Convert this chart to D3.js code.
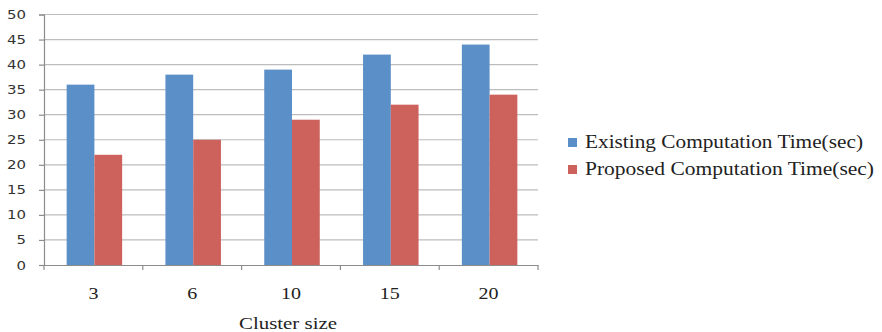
<!DOCTYPE html>
<html><head><meta charset="utf-8">
<script src="https://cdn.jsdelivr.net/npm/d3@7"></script>
<style>body{margin:0;background:#fff;}svg{display:block;}</style>
</head><body>
<svg id="c" width="882" height="332"></svg>
<script>
const categories = ["3","6","10","15","20"];
const existing = [36, 38, 39, 42, 44];
const proposed = [22, 25, 29, 32, 34];
const seriesNames = ["Existing Computation Time(sec)", "Proposed Computation Time(sec)"];
const seriesColors = ["#5b8fc7", "#cd625d"];
const yTicks = [0,5,10,15,20,25,30,35,40,45,50];

const SERIF = '"Liberation Serif","Times New Roman",serif';
const SANS = '"DejaVu Sans",Verdana,sans-serif';

const svg = d3.select("#c");
const L = 44, R = 538, T = 14.5, B = 265;
const x = d3.scaleBand().domain(categories).range([L, R]).paddingInner(0).paddingOuter(0);
const x1 = d3.scaleBand().domain([0,1]).range([0, x.bandwidth()]).paddingInner(0).paddingOuter(0.78);
const y = d3.scaleLinear().domain([0, 50]).range([B, T]);

// gridlines
svg.append("g").selectAll("line").data(yTicks.filter(d=>d>0)).join("line")
  .attr("x1", L).attr("x2", R).attr("y1", d=>y(d)).attr("y2", d=>y(d))
  .attr("stroke", "#bdbdbd").attr("stroke-width", 1.2);

// bars
const series = [existing, proposed];
series.forEach((vals, si) => {
  svg.append("g").selectAll("rect").data(vals).join("rect")
    .attr("x", (d,i) => x(categories[i]) + x1(si) + 1)
    .attr("width", x1.bandwidth())
    .attr("y", d => y(d))
    .attr("height", d => B - y(d))
    .attr("fill", seriesColors[si]);
});

// y axis
const yAxis = svg.append("g").attr("transform", `translate(${L},0)`)
  .call(d3.axisLeft(y).tickValues(yTicks).tickSize(5).tickPadding(13));
yAxis.select(".domain").attr("stroke", "#8c8c8c").attr("stroke-width", 1.2);
yAxis.selectAll(".tick line").attr("stroke", "#8c8c8c").attr("stroke-width", 1.2);
yAxis.selectAll("text").style("font-family", SANS).style("font-size", "12.5px").attr("fill", "#333")
  .attr("textLength", d => String(d).length * 9.5).attr("lengthAdjust", "spacingAndGlyphs");

// x axis
const xAxis = svg.append("g").attr("transform", `translate(0,${B})`)
  .call(d3.axisBottom(x).tickSize(0).tickPadding(22));
xAxis.select(".domain").attr("stroke", "#8c8c8c").attr("stroke-width", 1.2);
xAxis.selectAll("text").style("font-family", SERIF).style("font-size", "17px").attr("fill", "#222")
  .attr("textLength", d => d.length * 10).attr("lengthAdjust", "spacingAndGlyphs");
// boundary tick marks
svg.append("g").selectAll("line").data(d3.range(categories.length + 1)).join("line")
  .attr("x1", i => L + i * x.bandwidth()).attr("x2", i => L + i * x.bandwidth())
  .attr("y1", B).attr("y2", B + 5).attr("stroke", "#8c8c8c").attr("stroke-width", 1.2);

// x title
svg.append("text").attr("x", 288).attr("y", 329).attr("text-anchor", "middle")
  .style("font-family", SERIF).style("font-size", "17px").attr("fill", "#222")
  .attr("textLength", 98).attr("lengthAdjust", "spacingAndGlyphs")
  .text("Cluster size");

// legend
const lg = svg.append("g");
const legendW = [278, 289];
seriesNames.forEach((n, i) => {
  const yy = 142 + i * 27;
  lg.append("rect").attr("x", 568).attr("y", yy - 4).attr("width", 9).attr("height", 9).attr("fill", seriesColors[i]);
  lg.append("text").attr("x", 585).attr("y", yy + 6)
    .style("font-family", SERIF).style("font-size", "18px").attr("fill", "#222")
    .attr("textLength", legendW[i]).attr("lengthAdjust", "spacingAndGlyphs").text(n);
});
</script>
</body></html>
